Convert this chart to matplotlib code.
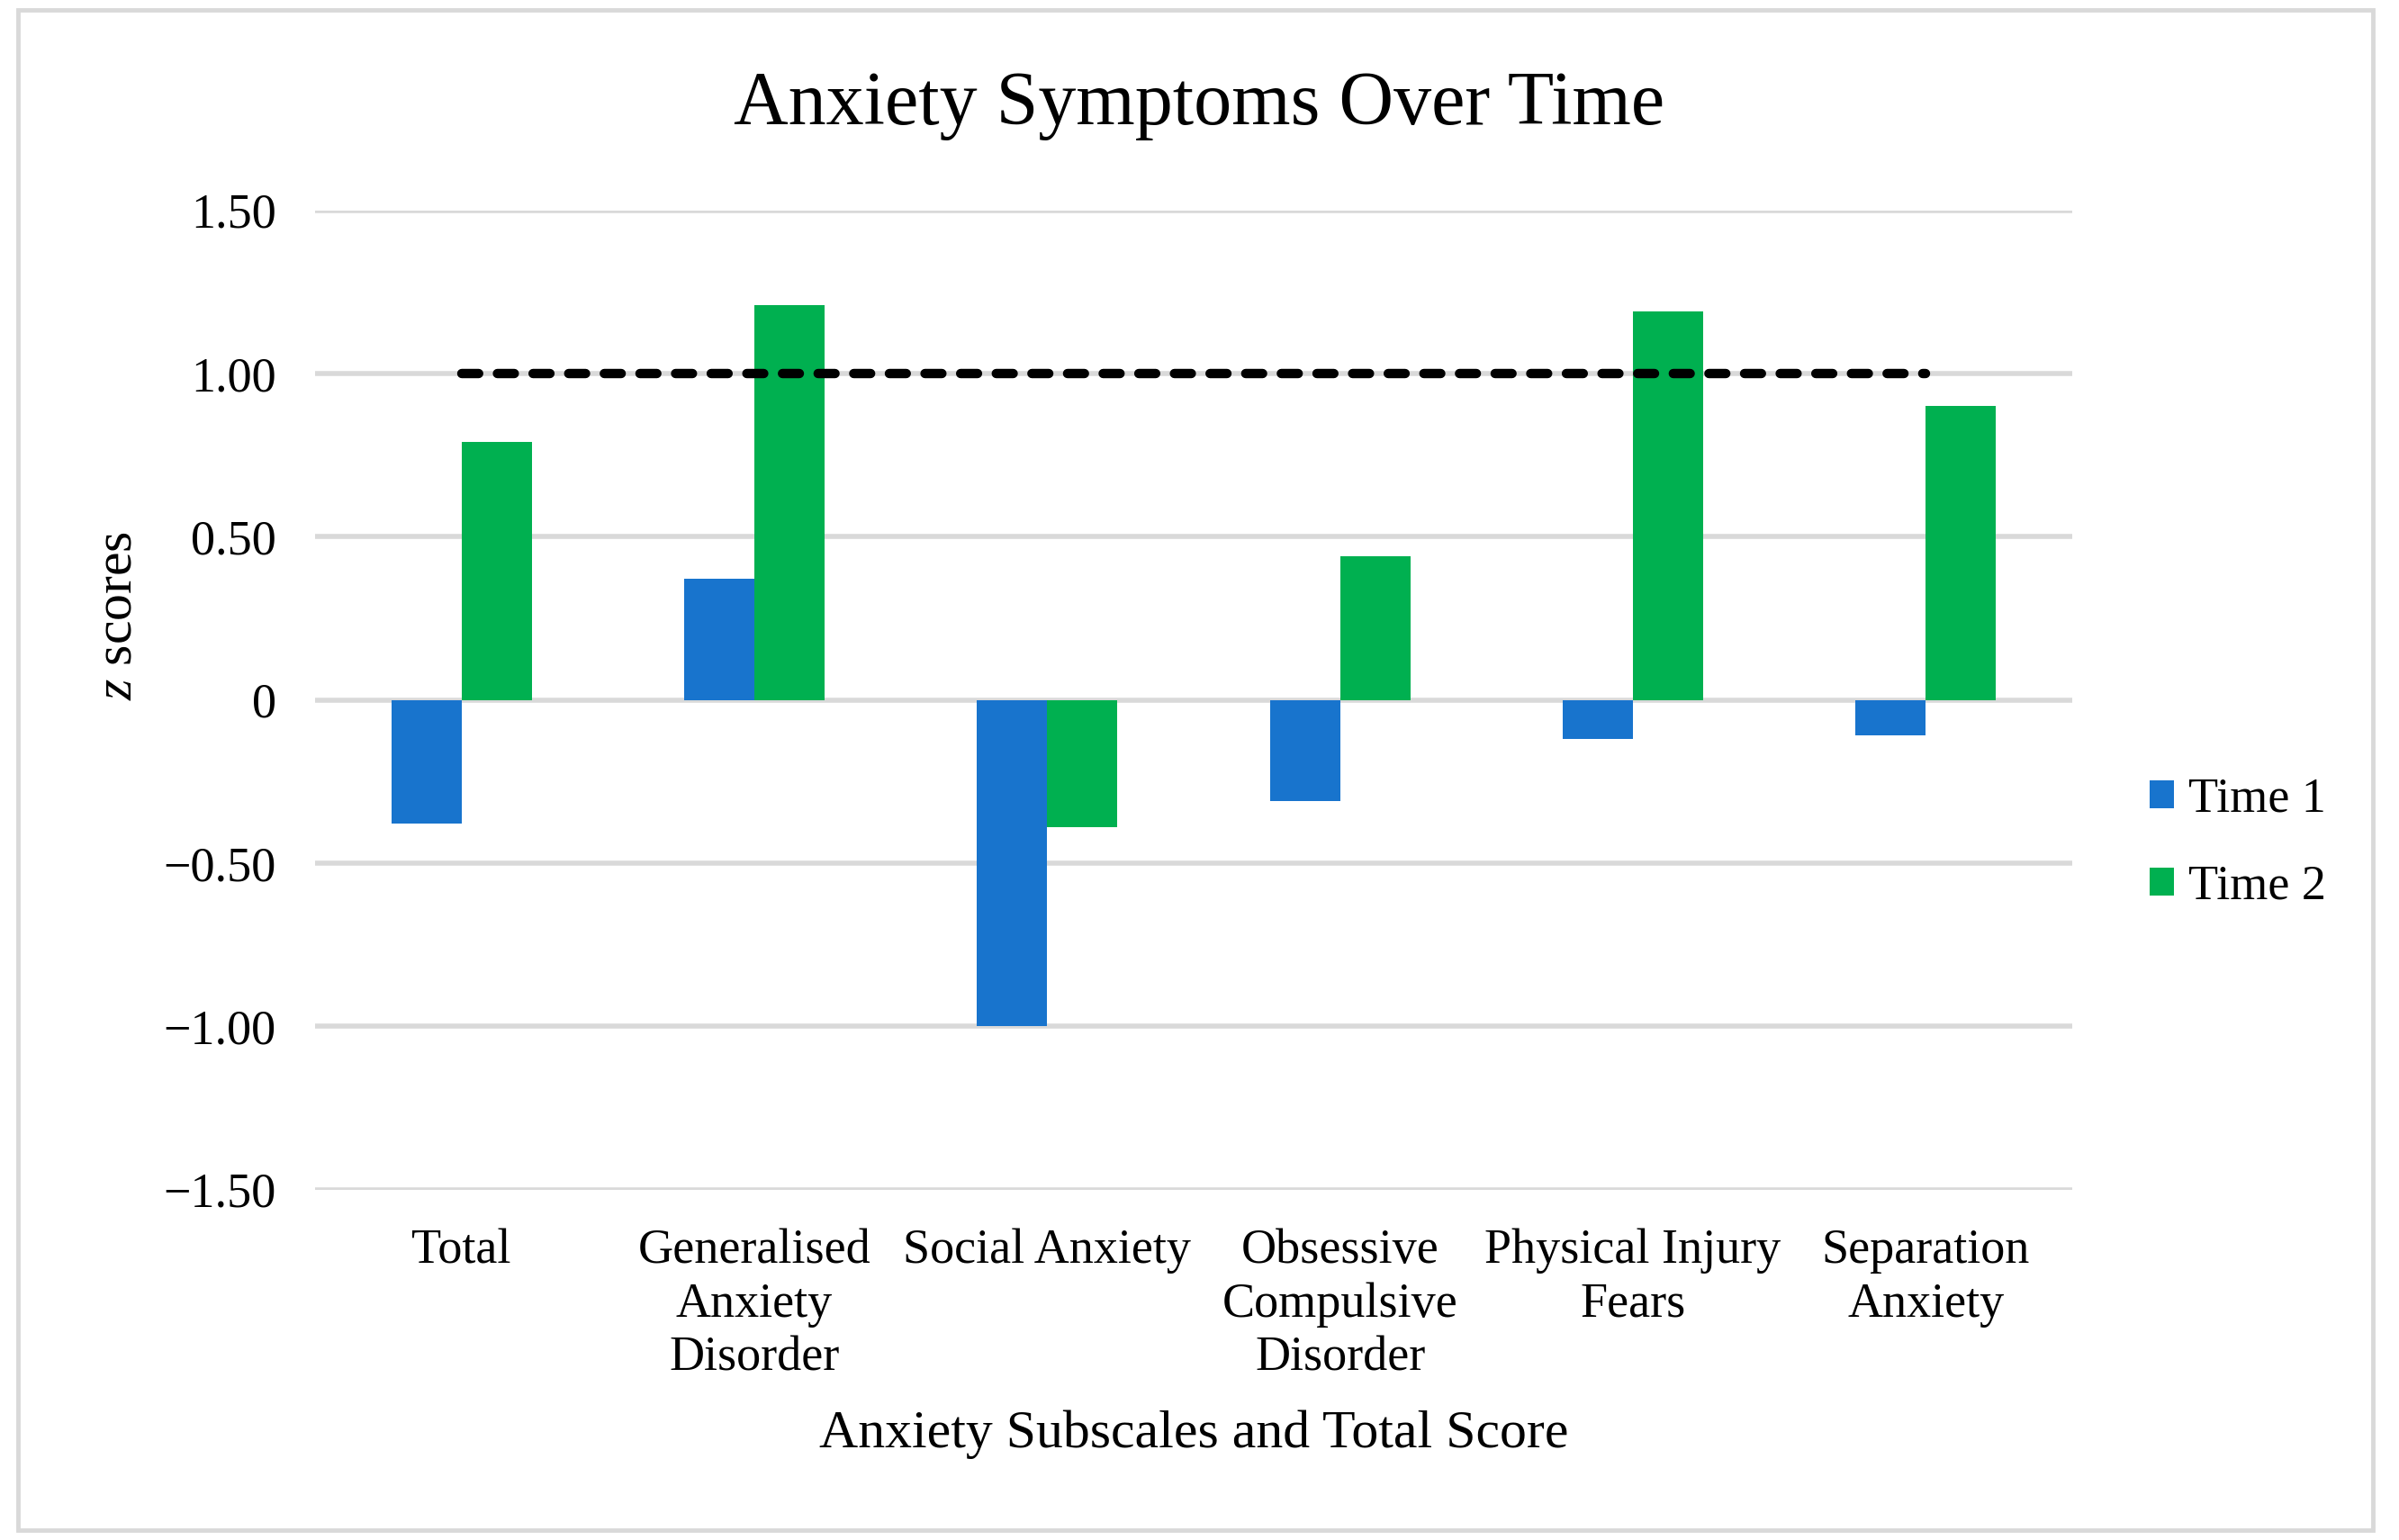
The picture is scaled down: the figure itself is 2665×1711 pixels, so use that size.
import numpy as np
import matplotlib
matplotlib.use("Agg")
import matplotlib.pyplot as plt
from matplotlib.patches import Rectangle

plt.rcParams["font.family"] = ["Liberation Serif", "DejaVu Serif"]
plt.rcParams["mathtext.fontset"] = "custom"
plt.rcParams["mathtext.rm"] = "Liberation Serif"
plt.rcParams["mathtext.it"] = "Liberation Serif:italic"

# 数据
categories = ["Total", "Generalised\nAnxiety\nDisorder", "Social Anxiety",
              "Obsessive\nCompulsive\nDisorder", "Physical Injury\nFears",
              "Separation\nAnxiety"]
time1 = [-0.38, 0.37, -1.00, -0.31, -0.12, -0.11]
time2 = [0.79, 1.21, -0.39, 0.44, 1.19, 0.90]
threshold = 1.0
yticks = [1.5, 1.0, 0.5, 0, -0.5, -1.0, -1.5]
ytick_labels = ["1.50", "1.00", "0.50", "0", "\u22120.50", "\u22121.00", "\u22121.50"]

BLUE = "#1874CD"
GREEN = "#00B050"
GRID = "#D9D9D9"
FS = 39
FS_LABEL = 43

fig = plt.figure(figsize=(26.65, 17.11), dpi=100)
ax = fig.add_axes([0.1313, 0.2276, 0.7325, 0.6359])

x = np.arange(len(categories))
w = 0.24
ax.bar(x - w / 2, time1, width=w, color=BLUE, label="Time 1", zorder=3)
ax.bar(x + w / 2, time2, width=w, color=GREEN, label="Time 2", zorder=3)

# 阈值虚线
ax.plot([x[0], x[-1]], [threshold, threshold], color="black", lw=7.5,
        dashes=(1.8, 2.0), dash_capstyle="round", zorder=4)

ax.set_xlim(-0.5, len(categories) - 0.5)
ax.set_ylim(-1.5, 1.5)
ax.set_yticks(yticks)
ax.set_yticklabels(ytick_labels)
ax.set_xticks(x)
ax.set_xticklabels(categories, linespacing=1.24)
ax.tick_params(axis="both", length=0, labelsize=FS)
ax.tick_params(axis="y", pad=31)
ax.tick_params(axis="x", pad=31)
ax.yaxis.grid(True, color=GRID, lw=4, zorder=0)
ax.set_axisbelow(True)
for s in ax.spines.values():
    s.set_visible(False)

# 标题
fig.text(0.5, 1 - 118 / 1711, "Anxiety Symptoms Over Time", fontsize=60.5,
         ha="center", va="center")

ax.set_xlabel("Anxiety Subscales and Total Score", fontsize=FS_LABEL)
ax.xaxis.set_label_coords(0.5, (1321.5 - 1594) / 1088, transform=ax.transAxes)
ax.xaxis.label.set_va("center")
ax.set_ylabel(r"$\it{z}$ scores", fontsize=FS_LABEL)
ax.yaxis.set_label_coords(-0.112, 0.586)
ax.yaxis.label.set_va("center")

ax.legend(loc="center left", bbox_to_anchor=(2388 / 2665, 1 - 937 / 1711),
          bbox_transform=fig.transFigure, frameon=False, fontsize=FS,
          handlelength=0.5, handleheight=0.5, handletextpad=0.3,
          labelspacing=0.86, borderaxespad=0, borderpad=0)

# 外框
fig.patches.append(Rectangle((20 / 2665, 11 / 1711), 2616 / 2665, 1689 / 1711,
                             transform=fig.transFigure, fill=False,
                             edgecolor=GRID, lw=3.5))

fig.savefig("out.png", dpi=100)
